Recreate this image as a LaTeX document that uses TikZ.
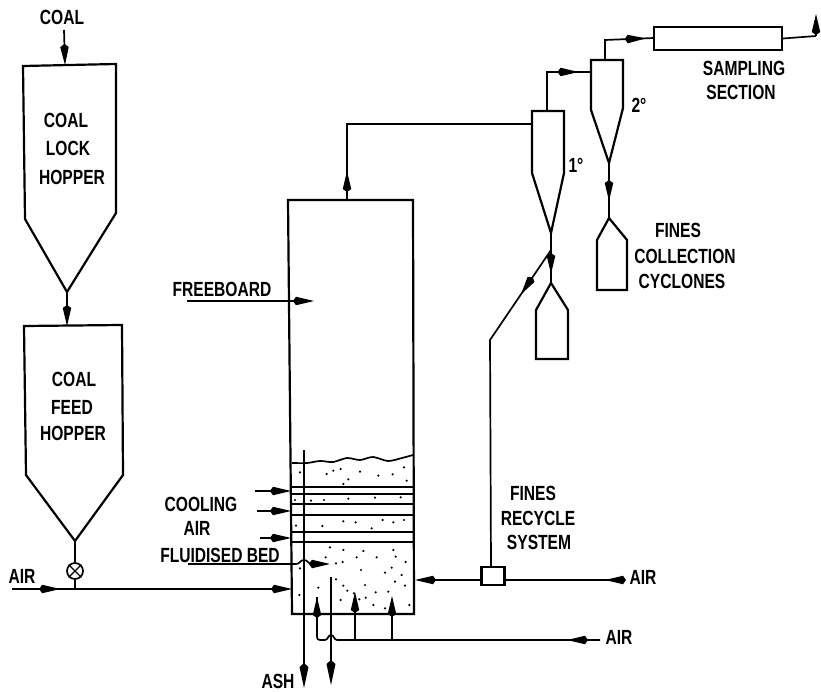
\documentclass[tikz,border=0pt]{standalone}
\usepackage{fontspec}
\setmainfont[FakeStretch=0.76]{Liberation Sans}
\usetikzlibrary{arrows.meta,decorations.markings}
\tikzset{
  bigtip/.tip={Kite[length=21pt,width=8.5pt,inset=3pt]},
  longtip/.tip={Kite[length=25pt,width=9pt,inset=4pt]},
}
\begin{document}
\begin{tikzpicture}[
  x=1pt, y=-1pt,
  wall/.style={line width=2.2pt, line join=miter},
  pipe/.style={line width=1.7pt},
  arr/.style={pipe, -{bigtip}},
  midarr/.style={postaction={decorate, decoration={markings,
    mark=at position #1 with {\arrow{bigtip}}}}},
  lbl/.style={font=\fontsize{20.5}{21}\selectfont\bfseries, inner sep=0pt, text=black},
  unitbox/.style={rectangle, draw, wall, inner sep=0pt},
]
\useasboundingbox (0,0) rectangle (821,692);

% Hoppers on the left
\coordinate (lockapex) at (67,292);
\coordinate (feedapex) at (75,541);
\coordinate (locktop) at (65,65);
\coordinate (feedtop) at (67,326);
\coordinate (coalin) at (64,30);
\draw[wall] (23,66) -- (116,64) -- (116,213) -- (lockapex) -- (25,219) -- cycle;
\draw[wall] (24,326) -- (122,325) -- (123,475) -- (feedapex) -- (26,475) -- cycle;
\node[lbl] (coaltxt) at (62,17) {COAL};
\node[lbl] (locka) at (66,120) {COAL};
\node[lbl] (lockb) at (68,148) {LOCK};
\node[lbl] (lockc) at (72,177) {HOPPER};
\node[lbl] (feeda) at (74,379) {COAL};
\node[lbl] (feedb) at (72,407) {FEED};
\node[lbl] (feedc) at (73,433) {HOPPER};
\draw[arr] (coalin) -- (locktop);
\draw[arr] (lockapex) -- (feedtop);

% Feed valve and air line
\node[circle, draw, pipe, minimum size=16pt, inner sep=0pt] (valve) at (75,571) {};
\draw[line width=1.2pt] (valve.north west) -- (valve.south east);
\draw[line width=1.2pt] (valve.north east) -- (valve.south west);
\coordinate (airstart) at (12,589);
\coordinate (airjoin) at (75,589);
\coordinate (airend) at (292,589);
\draw[pipe] (feedapex) -- (valve);
\draw[pipe] (valve) -- (airjoin);
\draw[arr, midarr=0.172] (airstart) -- (airend);
\node[lbl] (airleft) at (22,576) {AIR};

% Reactor
\draw[wall] (292,614) -- (288,200) -- (413,200) -- (414,614) -- cycle;
\draw[pipe] plot[smooth] coordinates {(292,463) (307,463) (320,461) (333,462)
  (347,458) (360,460) (373,457) (388,461) (402,458) (413,455)};
\foreach \ya/\yb in {487/494, 504/515, 532/542} {
  \draw[wall] (291,\ya) -- (414,\ya);
  \draw[wall] (291,\yb) -- (414,\yb);
}
% Bed particles
\foreach \dx/\dy in {510/97,590/102,610/92,632/87,690/95,745/107,788/103,822/82,830/122,655/118,
  640/132,495/180,543/182,582/180,655/176,735/173,812/172,498/257,577/258,640/244,677/247,
  725/265,758/240,790/247,822/240,600/322,640/330,700/333,790/330,587/352,680/352,740/352,
  797/350,827/366,618/370,638/366,693/390,785/383,765/398,815/405,795/425,618/418,640/437,
  705/435,652/452,737/457,775/455,825/437,565/443,510/385,508/465,632/480,688/478,707/473,
  730/495,765/505,838/495,672/460} {
  \fill ({130+\dx/3},{440+\dy/3}) circle (1.2pt);
}

% Cooling air
\foreach \xs/\ys in {255/491, 257/511, 260/538} {
  \draw[arr] (\xs,\ys) -- (291,\ys);
}
\node[lbl] (coolinga) at (201,504) {COOLING};
\node[lbl] (coolingb) at (197,528) {AIR};

% Leaders
\coordinate (freeleft) at (187,301);
\coordinate (freetip) at (314,301);
\draw[arr] (freeleft) -- (freetip);
\node[lbl] (freeboard) at (222,289) {FREEBOARD};
\node[lbl] (fluidbed) at (220,555) {FLUIDISED BED};
\draw[arr] (188,564) -- (296,564) .. controls (300,564) and (300,560) .. (304,560)
  .. controls (308,560) and (308,564) .. (312,564) -- (330,564);

% Ash lines
\coordinate (ashatop) at (304,450);
\coordinate (ashaend) at (304,688);
\coordinate (ashbtop) at (331,577);
\coordinate (ashbend) at (331,685);
\draw[pipe, -{longtip}] (ashatop) -- (ashaend);
\draw[pipe, -{longtip}] (ashbtop) -- (ashbend);
\node[lbl] (ash) at (278,681) {ASH};

% Fluidising air
\coordinate (fluidair) at (600,640);
\coordinate (fluidtip) at (317,597);
\coordinate (branchb) at (355,640);
\coordinate (branchc) at (392,640);
\draw[pipe] (fluidair) -- (branchc) -- (branchb) -- (337,640)
  .. controls (334,640) and (334,635) .. (331,635)
  .. controls (328,635) and (328,640) .. (325,640)
  -- (320,640) .. controls (318,640) and (317,639) .. (317,637) -- (fluidtip);
\draw[arr] (317,620) -- (fluidtip);
\draw[arr] (branchb) -- (355,592);
\draw[arr] (branchc) -- (392,596);
\draw[pipe, -{bigtip}] (fluidair) -- (567,640);
\node[lbl] (airlow) at (619,637) {AIR};

% Fines recycle
\node[unitbox, minimum width=23pt, minimum height=18pt] (recycle) at (493,576) {};
\coordinate (reactorright) at (415,580);
\coordinate (airright) at (624,580);
\coordinate (splitpt) at (551,250);
\coordinate (bendpt) at (490,340);
\draw[pipe, -{bigtip}] (airright) -- (605,580);
\draw[pipe] (airright) -- (recycle.east |- airright);
\draw[pipe] (recycle.west |- reactorright) -- (436,580);
\draw[arr] (436,580) -- (reactorright);
\draw[pipe, midarr=0.16] (splitpt) -- (bendpt) -- (491,567);
\node[lbl] (finesa) at (533,493) {FINES};
\node[lbl] (finesb) at (538,518) {RECYCLE};
\node[lbl] (finesc) at (539,542) {SYSTEM};
\node[lbl] (airrighttxt) at (643,577) {AIR};

% Cyclones
\coordinate (cycaapex) at (551,233);
\coordinate (cycbapex) at (609,163);
\coordinate (binatop) at (551,283);
\coordinate (binbtop) at (609,218);
\draw[wall] (532,111) -- (564,111) -- (564,173) -- (cycaapex) -- (532,173) -- cycle;
\draw[wall] (591,60) -- (623,60) -- (623,108) -- (cycbapex) -- (591,110) -- cycle;
\draw[wall] (binatop) -- (568,310) -- (568,359) -- (536,359) -- (536,310) -- cycle;
\draw[wall] (binbtop) -- (627,240) -- (627,290) -- (597,290) -- (597,240) -- cycle;
\draw[pipe] (cycaapex) -- (binatop);
\draw[arr] (551,253) -- (551,274);
\draw[pipe] (cycbapex) -- (binbtop);
\draw[arr] (609,180) -- (609,201);
\node[lbl] (cyca) at (576,165) {1°};
\node[lbl] (cycb) at (639,105) {2°};
\node[lbl] (collecta) at (678,230) {FINES};
\node[lbl] (collectb) at (685,256) {COLLECTION};
\node[lbl] (collectc) at (682,281) {CYCLONES};

% Gas route to sampling
\coordinate (reactorout) at (347,200);
\coordinate (elbowa) at (347,124);
\coordinate (cycain) at (532,124);
\coordinate (elbowb) at (547,72);
\coordinate (elbowc) at (605,40);
\draw[pipe] (reactorout) -- (elbowa) -- (cycain);
\draw[arr] (347,193) -- (347,171);
\draw[pipe, midarr=0.85] (547,111) -- (elbowb) -- (591,72);
\draw[pipe, midarr=0.88] (605,60) -- (elbowc) -- (654,38);
\node[unitbox, minimum width=128pt, minimum height=23pt] (sampling) at (718,38.5) {};
\coordinate (stackbase) at (816,36);
\coordinate (stacktip) at (816,14);
\draw[pipe] (sampling.east) -- (stackbase);
\draw[pipe, -{bigtip}] (stackbase) -- (stacktip);
\node[lbl] (samplinga) at (744,68) {SAMPLING};
\node[lbl] (samplingb) at (741,92) {SECTION};
\end{tikzpicture}
\end{document}
